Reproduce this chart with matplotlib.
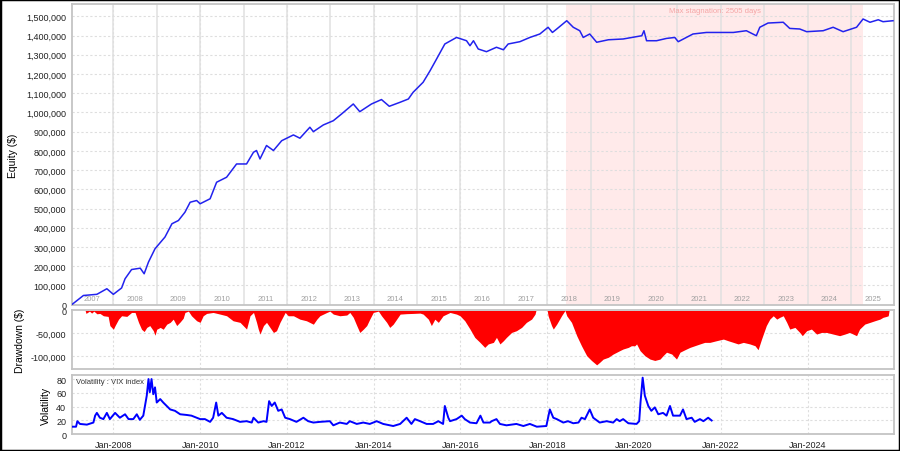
import matplotlib
matplotlib.use('Agg')
import matplotlib.pyplot as plt
from matplotlib.ticker import FuncFormatter, FixedLocator
from matplotlib.patches import Rectangle

plt.rcParams['font.family'] = ['Liberation Sans', 'DejaVu Sans']

# ---------------- data ----------------
eq_t = [2007.04, 2007.31, 2007.62, 2007.85, 2008.00, 2008.19, 2008.27, 2008.42, 2008.62, 2008.71,
        2008.81, 2008.96, 2009.19, 2009.35, 2009.50, 2009.65, 2009.77, 2009.92, 2010.00, 2010.23,
        2010.38, 2010.61, 2010.84, 2011.07, 2011.23, 2011.30, 2011.38, 2011.53, 2011.69, 2011.88,
        2012.15, 2012.30, 2012.53, 2012.61, 2012.84, 2013.07, 2013.26, 2013.53, 2013.68, 2013.95,
        2014.18, 2014.36, 2014.61, 2014.80, 2014.91, 2015.14, 2015.30, 2015.45, 2015.64, 2015.91,
        2016.14, 2016.22, 2016.30, 2016.41, 2016.60, 2016.83, 2016.99, 2017.10, 2017.37, 2017.60,
        2017.83, 2018.02, 2018.12, 2018.22, 2018.45, 2018.60, 2018.75, 2018.83, 2018.98, 2019.14,
        2019.41, 2019.75, 2020.18, 2020.23, 2020.29, 2020.52, 2020.75, 2020.94, 2021.02, 2021.36,
        2021.67, 2021.98, 2022.29, 2022.59, 2022.82, 2022.90, 2023.09, 2023.44, 2023.59, 2023.82,
        2023.98, 2024.36, 2024.59, 2024.82, 2025.13, 2025.28, 2025.44, 2025.63, 2025.74, 2025.97]
eq_v = [0, 48000, 54000, 83000, 54000, 87000, 135000, 183000, 190000, 161000,
        222000, 291000, 352000, 421000, 438000, 481000, 533000, 542000, 525000, 551000,
        637000, 663000, 732000, 732000, 793000, 802000, 758000, 828000, 802000, 853000,
        883000, 866000, 923000, 900000, 935000, 957000, 992000, 1044000, 1004000, 1044000,
        1067000, 1032000, 1053000, 1070000, 1105000, 1157000, 1217000, 1278000, 1356000, 1390000,
        1373000, 1347000, 1373000, 1330000, 1316000, 1339000, 1326000, 1356000, 1368000, 1390000,
        1408000, 1443000, 1416000, 1434000, 1477000, 1443000, 1425000, 1390000, 1408000, 1365000,
        1378000, 1382000, 1399000, 1425000, 1373000, 1373000, 1385000, 1390000, 1368000, 1408000,
        1416000, 1416000, 1416000, 1425000, 1399000, 1443000, 1465000, 1469000, 1437000, 1434000,
        1420000, 1425000, 1443000, 1420000, 1443000, 1486000, 1469000, 1482000, 1472000, 1477000]

dd_t = [2007.04, 2007.35, 2007.37, 2007.45, 2007.50, 2007.55, 2007.62, 2007.69, 2007.77, 2007.88,
        2007.92, 2008.00, 2008.04, 2008.12, 2008.19, 2008.31, 2008.42, 2008.50, 2008.58, 2008.65,
        2008.71, 2008.77, 2008.84, 2008.92, 2008.96, 2009.00, 2009.08, 2009.15, 2009.23, 2009.31,
        2009.38, 2009.46, 2009.54, 2009.61, 2009.65, 2009.73, 2009.80, 2009.92, 2010.00, 2010.07,
        2010.15, 2010.30, 2010.46, 2010.61, 2010.76, 2010.92, 2011.07, 2011.15, 2011.23, 2011.30,
        2011.34, 2011.38, 2011.46, 2011.53, 2011.61, 2011.69, 2011.76, 2011.84, 2011.96, 2012.03,
        2012.15, 2012.30, 2012.45, 2012.61, 2012.69, 2012.76, 2012.84, 2012.92, 2012.99, 2013.07,
        2013.22, 2013.38, 2013.45, 2013.53, 2013.61, 2013.68, 2013.76, 2013.84, 2013.91, 2013.99,
        2014.11, 2014.18, 2014.30, 2014.37, 2014.45, 2014.53, 2014.61, 2014.76, 2014.91, 2015.07,
        2015.14, 2015.26, 2015.33, 2015.41, 2015.49, 2015.60, 2015.76, 2015.91, 2015.99, 2016.10,
        2016.22, 2016.33, 2016.45, 2016.56, 2016.64, 2016.76, 2016.83, 2016.91, 2016.99, 2017.06,
        2017.18, 2017.29, 2017.41, 2017.52, 2017.64, 2017.72, 2017.74, 2018.00, 2018.02, 2018.10,
        2018.14, 2018.22, 2018.33, 2018.41, 2018.45, 2018.56, 2018.68, 2018.79, 2018.91, 2019.02,
        2019.14, 2019.21, 2019.29, 2019.41, 2019.52, 2019.67, 2019.75, 2019.87, 2019.94, 2020.02,
        2020.06, 2020.14, 2020.25, 2020.37, 2020.48, 2020.60, 2020.67, 2020.75, 2020.87, 2020.98,
        2021.06, 2021.13, 2021.21, 2021.29, 2021.40, 2021.52, 2021.63, 2021.75, 2021.90, 2022.06,
        2022.17, 2022.29, 2022.40, 2022.52, 2022.67, 2022.79, 2022.86, 2022.94, 2023.05, 2023.13,
        2023.21, 2023.29, 2023.36, 2023.44, 2023.52, 2023.59, 2023.71, 2023.82, 2023.88, 2023.98,
        2024.09, 2024.21, 2024.32, 2024.44, 2024.59, 2024.74, 2024.86, 2024.97, 2025.13, 2025.20,
        2025.32, 2025.44, 2025.55, 2025.67, 2025.74, 2025.82, 2025.86, 2025.88]
dd_v = [0, 0, -6500, -1500, -5800, -1500, -7300, -6500, -11600, -13000,
        -33000, -41000, -33000, -19000, -11600, -13000, -4400, -4400, -26000, -41000,
        -46000, -37000, -33000, -44000, -54000, -41000, -37000, -41000, -30000, -26000,
        -19000, -33000, -25000, -17000, -4400, -1500, -11600, -22500, -26000, -11600,
        -6500, -4400, -8000, -11600, -22500, -26000, -40600, -11600, -4400, -26000,
        -40600, -51500, -33000, -26000, -37000, -48000, -44200, -26000, -4400, -11600,
        -11600, -19000, -22500, -30000, -19000, -11600, -8000, -4400, -1500, -8000,
        -11600, -10000, -4400, -15000, -33000, -48000, -41000, -33000, -19000, -4400,
        -1500, -11600, -26000, -37000, -30000, -19000, -8000, -7000, -6500, -5800,
        -8000, -19000, -33000, -19000, -26000, -11600, -4400, -8000, -11600, -22500,
        -40600, -58700, -69600, -80500, -73000, -69600, -58700, -73000, -66000, -58700,
        -47900, -44200, -37000, -26000, -18900, -8000, 0, 0, -11600, -33000,
        -40600, -29700, -11600, 0, -11600, -26000, -55000, -77000, -98600, -109000,
        -118600, -113000, -106000, -102000, -95000, -87700, -84000, -80500, -76900, -76900,
        -73000, -87700, -98600, -106000, -109000, -106000, -98600, -91000, -95000, -106000,
        -91000, -87700, -84000, -80500, -76900, -73000, -69600, -69600, -66000, -62400,
        -66000, -69600, -73000, -69600, -73000, -76900, -85600, -62400, -33000, -18900,
        -11600, -18900, -15000, -11600, -26000, -40600, -37000, -47900, -55000, -44200,
        -40600, -51500, -47900, -47900, -51500, -55000, -51500, -47900, -55000, -40600,
        -29700, -26000, -22500, -18900, -15000, -13000, -11600, 0]

vix_t = [2007.04, 2007.14, 2007.17, 2007.23, 2007.39, 2007.54, 2007.58, 2007.62, 2007.69, 2007.77,
         2007.85, 2007.92, 2008.04, 2008.15, 2008.27, 2008.35, 2008.46, 2008.54, 2008.61, 2008.69,
         2008.77, 2008.81, 2008.84, 2008.88, 2008.92, 2008.96, 2009.00, 2009.08, 2009.15, 2009.23,
         2009.31, 2009.42, 2009.54, 2009.69, 2009.80, 2009.92, 2010.00, 2010.11, 2010.23, 2010.30,
         2010.37, 2010.42, 2010.50, 2010.61, 2010.76, 2010.92, 2011.07, 2011.19, 2011.23, 2011.34,
         2011.46, 2011.53, 2011.59, 2011.65, 2011.72, 2011.80, 2011.88, 2011.96, 2012.07, 2012.22,
         2012.38, 2012.49, 2012.61, 2012.76, 2012.99, 2013.07, 2013.22, 2013.38, 2013.45, 2013.61,
         2013.76, 2013.91, 2014.07, 2014.22, 2014.45, 2014.61, 2014.76, 2014.87, 2014.95, 2015.07,
         2015.22, 2015.37, 2015.49, 2015.60, 2015.64, 2015.72, 2015.76, 2015.91, 2016.03, 2016.10,
         2016.22, 2016.37, 2016.46, 2016.53, 2016.68, 2016.72, 2016.83, 2016.91, 2017.06, 2017.29,
         2017.45, 2017.60, 2017.76, 2017.98, 2018.06, 2018.14, 2018.22, 2018.37, 2018.48, 2018.60,
         2018.72, 2018.79, 2018.87, 2018.98, 2019.06, 2019.21, 2019.37, 2019.52, 2019.60, 2019.67,
         2019.75, 2019.87, 2020.06, 2020.12, 2020.15, 2020.20, 2020.25, 2020.33, 2020.40, 2020.48,
         2020.56, 2020.67, 2020.75, 2020.83, 2020.90, 2021.06, 2021.13, 2021.21, 2021.33, 2021.40,
         2021.52, 2021.60, 2021.71, 2021.79]
vix_v = [11, 11, 19, 15, 14, 17, 27, 31, 24, 22,
         31, 22, 31, 24, 29, 22, 22, 29, 21, 27,
         56, 80, 61, 80, 58, 68, 46, 51, 46, 41,
         36, 34, 29, 28, 27, 24, 22, 22, 18, 24,
         46, 27, 31, 24, 22, 18, 19, 17, 24, 17,
         19, 18, 48, 41, 46, 34, 36, 24, 22, 18,
         24, 19, 17, 18, 19, 13, 17, 15, 19, 15,
         17, 15, 19, 15, 12, 15, 24, 15, 22, 19,
         15, 15, 19, 15, 41, 24, 19, 22, 27, 22,
         17, 16, 27, 17, 17, 19, 22, 15, 13, 15,
         12, 15, 11, 12, 36, 24, 22, 17, 19, 16,
         17, 24, 22, 36, 24, 17, 19, 17, 22, 19,
         22, 16, 15, 19, 46, 82, 56, 41, 34, 39,
         29, 31, 27, 41, 27, 27, 36, 22, 24, 18,
         22, 19, 24, 20]

year_labels = list(range(2007, 2026))
year_lines = list(range(2008, 2026))
stag_start, stag_end = 2018.44, 2025.28
stag_text = "Max stagnation: 2505 days"
date_ticks = [2008, 2010, 2012, 2014, 2016, 2018, 2020, 2022, 2024]
date_tick_labels = ["Jan-%d" % y for y in date_ticks]
eq_ticks = list(range(0, 1600000, 100000))
dd_ticks = [0, -50000, -100000]
vix_ticks = [0, 20, 40, 60, 80]

# ---------------- styling ----------------
XLIM = (2007.04, 2026.0)
FRAME = '#c4c4c4'
GRID = '#dedede'
TICKC = '#222222'
fmt = FuncFormatter(lambda v, p: f"{v:,.0f}")

fig = plt.figure(figsize=(9, 4.52), dpi=100)
fig.patch.set_facecolor('white')
ax1 = fig.add_axes([0.07967, 0.32301, 0.91400, 0.66593])
ax2 = fig.add_axes([0.07967, 0.18142, 0.91400, 0.12986])
ax3 = fig.add_axes([0.07967, 0.03695, 0.91400, 0.13186])

for ax in (ax1, ax2, ax3):
    ax.set_xlim(*XLIM)
    for s in ax.spines.values():
        s.set_color(FRAME)
        s.set_linewidth(1.3)
    ax.tick_params(axis='both', length=0, labelsize=6.5, colors=TICKC, pad=4)
    for y in date_ticks:
        ax.axvline(y, color=GRID, lw=0.8, ls=(0, (2, 2)), zorder=0)

# ---- equity panel
ax1.axvspan(stag_start, stag_end, color='#ffeaea', zorder=0, lw=0)
for y in year_lines:
    ax1.axvline(y, color='#e0e0e0', lw=1.1, zorder=1)
for v in eq_ticks[1:]:
    ax1.axhline(v, color=GRID, lw=0.8, ls=(0, (2, 2)), zorder=1)
ax1.plot(eq_t, eq_v, color='#2222ee', lw=1.1, zorder=3)
ax1.set_ylim(-1500, 1564000)
ax1.yaxis.set_major_locator(FixedLocator(eq_ticks))
ax1.yaxis.set_major_formatter(fmt)
ax1.set_xticks([])
ax1.set_ylabel('Equity ($)', fontsize=7.5, labelpad=6)
tr1 = ax1.get_xaxis_transform()
for y in year_labels:
    ax1.text(y + 0.5, 0.022, str(y), transform=tr1, ha='center', va='center',
             fontsize=5.5, color='#a0a0a0', zorder=2)
ax1.text((stag_start + stag_end) / 2, 0.977, stag_text, transform=tr1, ha='center',
         va='center', fontsize=5.5, color='#f5a5a5', zorder=2)

# ---- drawdown panel
for v in dd_ticks[1:]:
    ax2.axhline(v, color=GRID, lw=0.8, ls=(0, (2, 2)), zorder=0)
ax2.fill_between(dd_t, dd_v, 0, color='#ff0000', lw=0, zorder=2)
ax2.set_ylim(-127600, 300)
ax2.yaxis.set_major_locator(FixedLocator(dd_ticks))
ax2.yaxis.set_major_formatter(fmt)
ax2.set_xticks([])
ax2.set_ylabel('Drawdown ($)', fontsize=7.5, labelpad=4)

# ---- VIX panel
for v in vix_ticks[1:]:
    ax3.axhline(v, color=GRID, lw=0.8, ls=(0, (2, 2)), zorder=0)
ax3.plot(vix_t, vix_v, color='#0000ff', lw=1.4, zorder=3)
ax3.set_ylim(0, 86.3)
ax3.yaxis.set_major_locator(FixedLocator(vix_ticks))
ax3.set_xticks(date_ticks)
ax3.set_xticklabels(date_tick_labels)
ax3.set_ylabel('Volatility', fontsize=7.5, labelpad=4)
ax3.text(0.005, 0.88, 'Volatility : VIX index', transform=ax3.transAxes, ha='left',
         va='center', fontsize=5.5, color='#333333', zorder=4)

fig.align_ylabels([ax1, ax2])
fig.patches.append(Rectangle((0, 0), 1, 1, transform=fig.transFigure, fill=False,
                             edgecolor='black', linewidth=2.5))
fig.savefig('out.png', dpi=100)
